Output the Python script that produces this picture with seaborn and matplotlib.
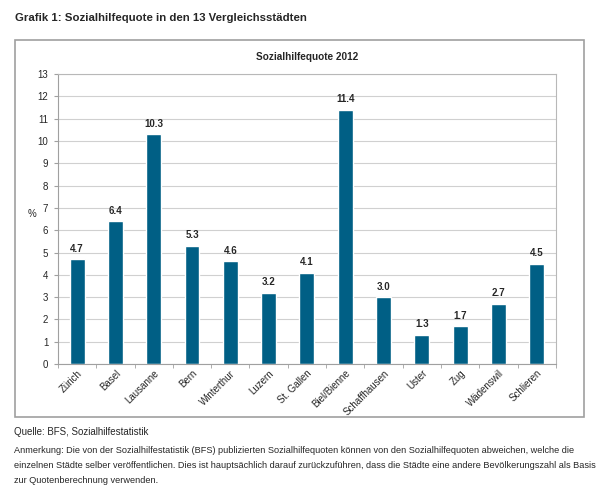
import matplotlib
matplotlib.use("Agg")
import matplotlib.pyplot as plt
import matplotlib.patches as mpatches
import pandas as pd
import seaborn as sns

# data
staedte = ["Zürich", "Basel", "Lausanne", "Bern", "Winterthur", "Luzern", "St. Gallen",
           "Biel/Bienne", "Schaffhausen", "Uster", "Zug", "Wädenswil", "Schlieren"]
quote = [4.7, 6.4, 10.3, 5.3, 4.6, 3.2, 4.1, 11.4, 3.0, 1.3, 1.7, 2.7, 4.5]

df = pd.DataFrame({"Stadt": staedte, "Quote": quote})

sns.set_style("white")
plt.rcParams["font.family"] = ["Liberation Sans", "DejaVu Sans"]

fig = plt.figure(figsize=(6.02, 4.98), dpi=100)
ax = fig.add_axes([0.0963, 0.269, 0.827, 0.582])

sns.barplot(data=df, x="Stadt", y="Quote", color="#005f85", saturation=1,
            width=0.39, ax=ax)

ax.set_ylim(0, 13)
ax.set_yticks(range(0, 14))
ax.set_xlim(-0.5, len(staedte) - 0.5)
ax.yaxis.grid(True, color="#d0d0d0", lw=0.8)
ax.set_axisbelow(True)
for s in ["top", "right"]:
    ax.spines[s].set_color("#b8b8b8")
for s in ["left", "bottom"]:
    ax.spines[s].set_color("#a0a0a0")
ax.tick_params(axis="y", labelsize=7, length=3, color="#a0a0a0", left=True, pad=4)
ax.tick_params(axis="x", labelsize=7, length=0, pad=3)
ax.set_xticks(range(len(staedte)))
ax.set_xticklabels(staedte, rotation=45, ha="right", rotation_mode="anchor")
# Excel-like tick marks between categories
ax.set_xticks([i - 0.5 for i in range(len(staedte) + 1)], minor=True)
ax.tick_params(axis="x", which="minor", length=3, color="#a0a0a0", bottom=True)
ax.set_xlabel("")
ax.set_ylabel("%", rotation=0, fontsize=7, labelpad=4)

for i, v in enumerate(quote):
    ax.text(i, v + 0.25, f"{v:.1f}", ha="center", va="bottom", fontsize=7,
            fontweight="bold")

ax.set_title("Sozialhilfequote 2012", fontsize=7.2, fontweight="bold", pad=10)

# outer frame around the chart
fig.patches.append(mpatches.Rectangle((0.0249, 0.1627), 0.945, 0.757,
                                      transform=fig.transFigure, fill=False,
                                      edgecolor="#a0a0a0", lw=1.2))

fig.text(0.025, 0.964, "Grafik 1: Sozialhilfequote in den 13 Vergleichsstädten",
         fontsize=8.2, fontweight="bold", va="center")
fig.text(0.024, 0.132, "Quelle: BFS, Sozialhilfestatistik", fontsize=7, va="center")
fig.text(0.024, 0.066,
         "Anmerkung: Die von der Sozialhilfestatistik (BFS) publizierten Sozialhilfequoten können von den Sozialhilfequoten abweichen, welche die\n"
         "einzelnen Städte selber veröffentlichen. Dies ist hauptsächlich darauf zurückzuführen, dass die Städte eine andere Bevölkerungszahl als Basis\n"
         "zur Quotenberechnung verwenden.",
         fontsize=6.55, va="center", linespacing=1.85)

fig.savefig("out.png", dpi=100)
